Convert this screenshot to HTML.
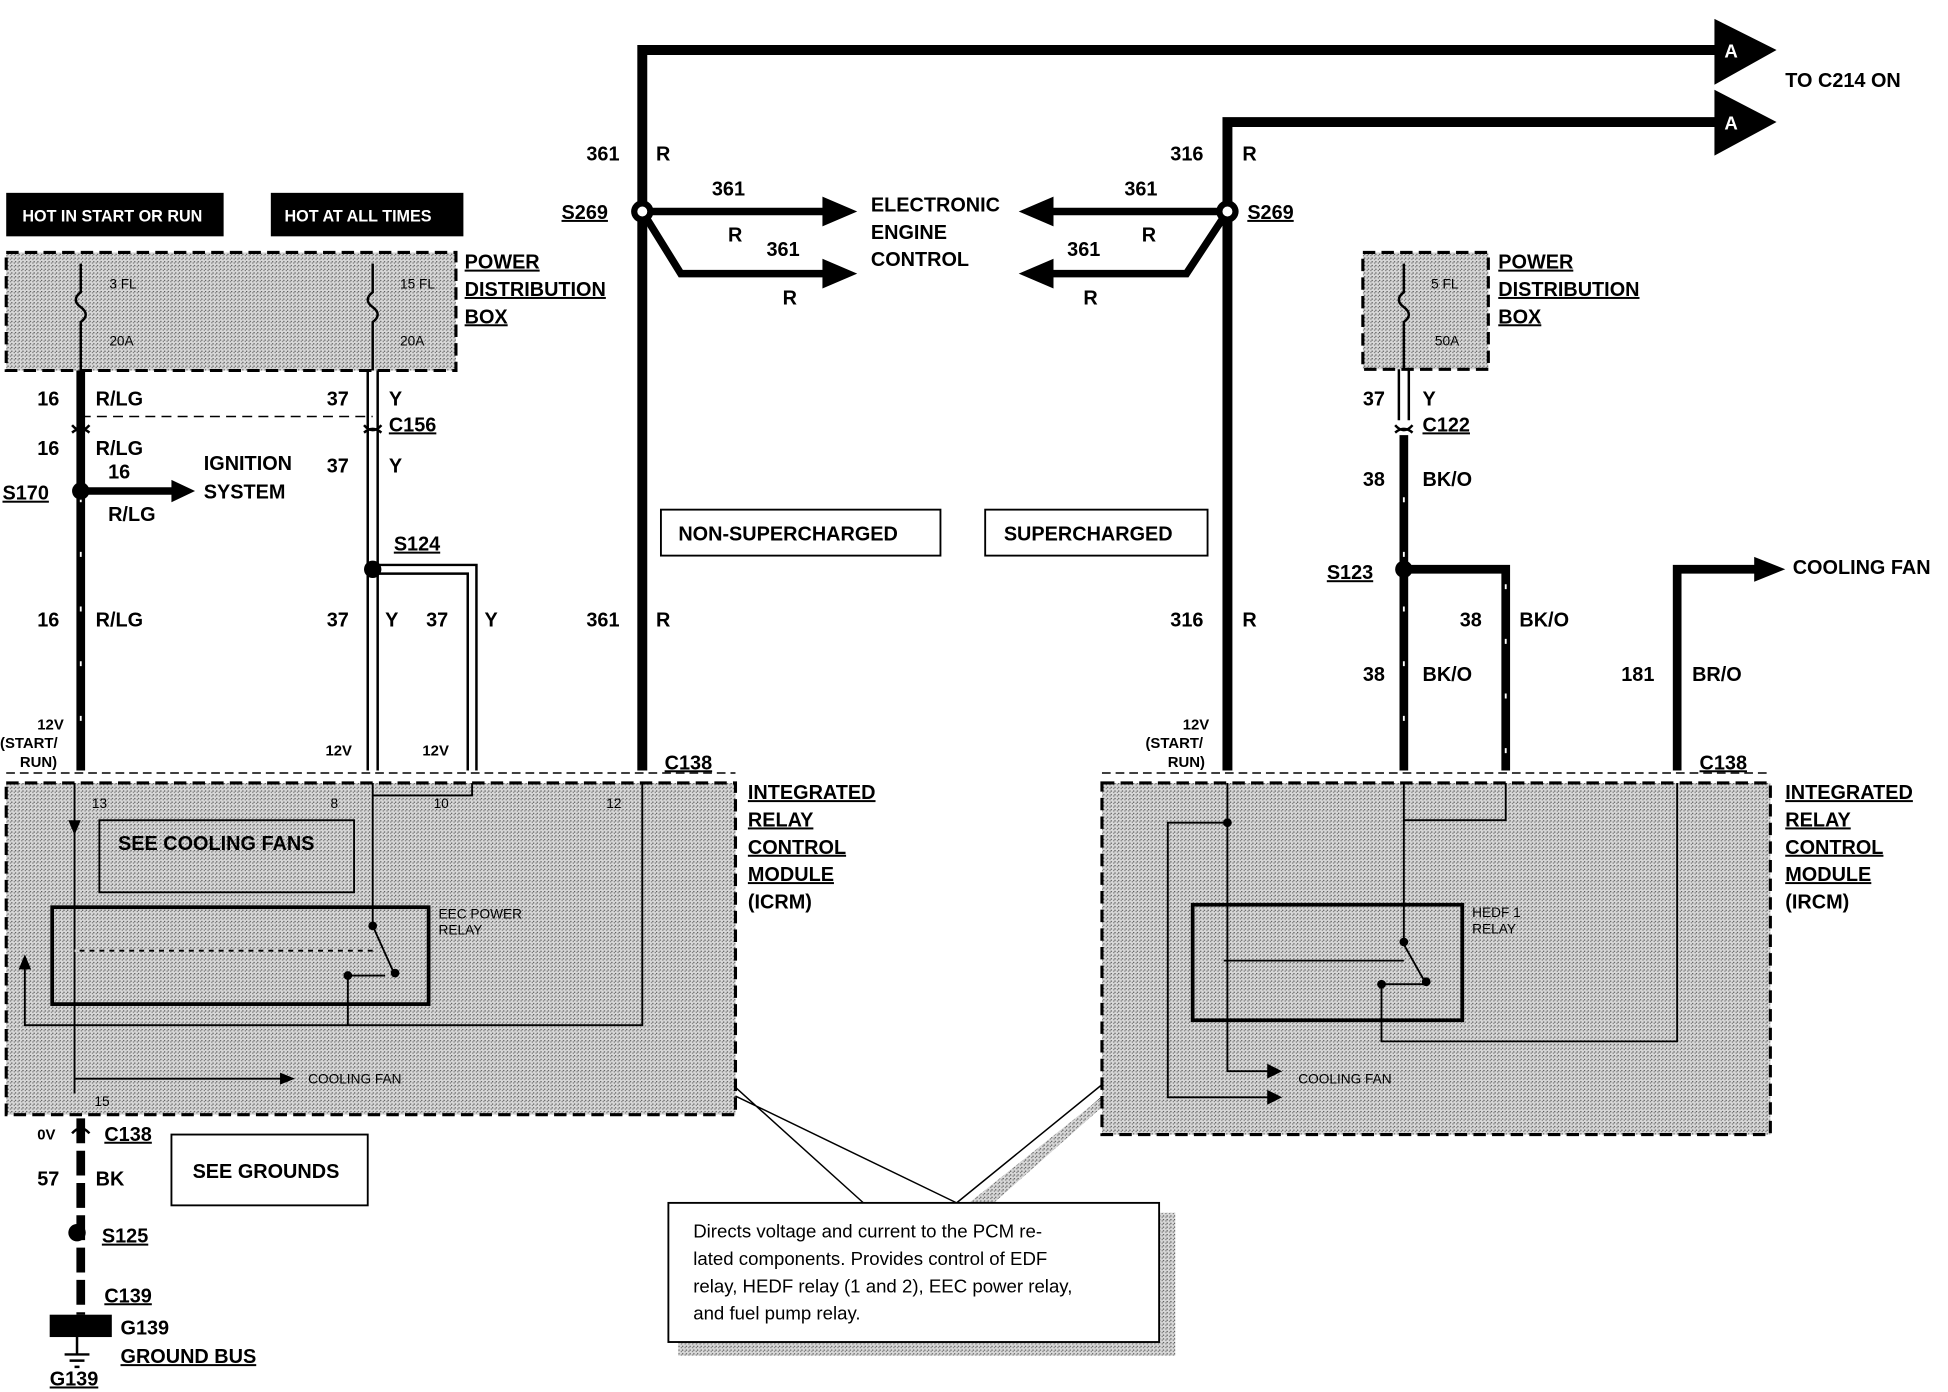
<!DOCTYPE html>
<html><head><meta charset="utf-8"><style>
html,body{margin:0;padding:0;background:#fff;width:1948px;height:1392px;overflow:hidden}
svg{display:block}
text{font-family:"Liberation Sans",Arial,sans-serif;font-weight:bold;font-size:16px;fill:#000}
.s{font-size:11px;font-weight:normal}
.w{fill:#fff;font-size:13px}
</style></head><body>
<svg width="1948" height="1392" viewBox="0 0 1568 1120" xmlns="http://www.w3.org/2000/svg">
<defs>
<pattern id="st" width="3" height="3" patternUnits="userSpaceOnUse">
<rect width="3" height="3" fill="#d8d8d8"/><rect width="1" height="1" fill="#555"/><rect x="2" y="1" width="1" height="1" fill="#777"/>
</pattern>
<marker id="ar" viewBox="0 0 10 10" refX="8" refY="5" markerWidth="4" markerHeight="4" orient="auto"><path d="M0,0L10,5L0,10z" fill="#000"/></marker>
<marker id="as" viewBox="0 0 10 10" refX="8" refY="5" markerWidth="8" markerHeight="8" orient="auto"><path d="M0,1L10,5L0,9z" fill="#000"/></marker>
</defs>

<!-- top A lines -->
<path d="M517,620V40H1385" fill="none" stroke="#000" stroke-width="8"/>
<path d="M1380,15L1430,40L1380,68z" fill="#000"/><text x="1388" y="46" class="w" style="font-size:15px">A</text>
<path d="M988,620V98H1385" fill="none" stroke="#000" stroke-width="8"/>
<path d="M1380,72L1430,98L1380,125z" fill="#000"/><text x="1388" y="104" class="w" style="font-size:15px">A</text>
<text x="1437" y="70">TO C214 ON</text>
<text x="472" y="129">361</text><text x="528" y="129">R</text>
<text x="942" y="129">316</text><text x="1000" y="129">R</text>

<!-- S269 left -->
<text x="452" y="176" text-decoration="underline">S269</text>
<path d="M517,170H665" stroke="#000" stroke-width="6"/><path d="M662,158L690,170L662,182z"/>
<path d="M517,170L548,220H665" fill="none" stroke="#000" stroke-width="6"/><path d="M662,208L690,220L662,232z"/>
<circle cx="517" cy="170" r="9" fill="#000"/><circle cx="517" cy="170" r="4" fill="#fff"/>
<text x="573" y="157">361</text><text x="586" y="194">R</text>
<text x="617" y="206">361</text><text x="630" y="245">R</text>
<text x="701" y="170">ELECTRONIC</text><text x="701" y="192">ENGINE</text><text x="701" y="214">CONTROL</text>
<!-- S269 right -->
<path d="M988,170H845" stroke="#000" stroke-width="6"/><path d="M848,158L820,170L848,182z"/>
<path d="M988,170L955,220H845" fill="none" stroke="#000" stroke-width="6"/><path d="M848,208L820,220L848,232z"/>
<circle cx="988" cy="170" r="9" fill="#000"/><circle cx="988" cy="170" r="4" fill="#fff"/>
<text x="1004" y="176" text-decoration="underline">S269</text>
<text x="905" y="157">361</text><text x="919" y="194">R</text>
<text x="859" y="206">361</text><text x="872" y="245">R</text>

<rect x="532" y="410" width="225" height="37" fill="none" stroke="#000" stroke-width="1.5"/><text x="546" y="435">NON-SUPERCHARGED</text>
<rect x="793" y="410" width="179" height="37" fill="none" stroke="#000" stroke-width="1.5"/><text x="808" y="435">SUPERCHARGED</text>
<text x="472" y="504">361</text><text x="528" y="504">R</text>
<text x="942" y="504">316</text><text x="1000" y="504">R</text>

<!-- hot boxes -->
<rect x="5" y="155" width="175" height="35" fill="#000"/><text x="18" y="178" class="w">HOT IN START OR RUN</text>
<rect x="218" y="155" width="155" height="35" fill="#000"/><text x="229" y="178" class="w">HOT AT ALL TIMES</text>

<!-- left PDB -->
<rect x="5" y="203" width="362" height="95" fill="url(#st)" stroke="#000" stroke-width="2.5" stroke-dasharray="10,5"/>
<path d="M65,212V235q-8,6 0,12q8,6 0,12V298M300,212V235q-8,6 0,12q8,6 0,12V298" fill="none" stroke="#000" stroke-width="2"/>
<text x="88" y="232" class="s">3 FL</text><text x="88" y="278" class="s">20A</text>
<text x="322" y="232" class="s">15 FL</text><text x="322" y="278" class="s">20A</text>
<text x="374" y="216" text-decoration="underline">POWER</text><text x="374" y="238" text-decoration="underline">DISTRIBUTION</text><text x="374" y="260" text-decoration="underline">BOX</text>

<!-- left wires -->
<path d="M65,298V620" stroke="#000" stroke-width="7"/>
<path d="M65,400V615" stroke="#fff" stroke-width="1.5" stroke-dasharray="4,40"/>
<path d="M296,298V620M304,298V620" stroke="#000" stroke-width="2"/>
<path d="M300,458H380V620" fill="none" stroke="#000" stroke-width="9"/>
<path d="M300,458H380V620" fill="none" stroke="#fff" stroke-width="5"/>
<path d="M65,335H300" stroke="#000" stroke-width="1.2" stroke-dasharray="8,5"/>
<path d="M58,342q7,8 14,0M58,348q7,-6 14,0M293,342q7,8 14,0M293,348q7,-6 14,0" fill="none" stroke="#000" stroke-width="2"/>
<text x="30" y="326">16</text><text x="77" y="326">R/LG</text>
<text x="263" y="326">37</text><text x="313" y="326">Y</text>
<text x="313" y="347" text-decoration="underline">C156</text>
<text x="30" y="366">16</text><text x="77" y="366">R/LG</text>
<text x="263" y="380">37</text><text x="313" y="380">Y</text>
<circle cx="65" cy="395" r="7" fill="#000"/>
<text x="2" y="402" text-decoration="underline">S170</text>
<path d="M65,395H140" stroke="#000" stroke-width="6"/><path d="M138,386L157,395L138,404z"/>
<text x="87" y="385">16</text><text x="87" y="419">R/LG</text>
<text x="164" y="378">IGNITION</text><text x="164" y="401">SYSTEM</text>
<circle cx="300" cy="458" r="7" fill="#000"/>
<text x="317" y="443" text-decoration="underline">S124</text>
<text x="30" y="504">16</text><text x="77" y="504">R/LG</text>
<text x="263" y="504">37</text><text x="310" y="504">Y</text><text x="343" y="504">37</text><text x="390" y="504">Y</text>
<text x="30" y="587" style="font-size:12px">12V</text><text x="0" y="602" style="font-size:12px">(START/</text><text x="16" y="617" style="font-size:12px">RUN)</text>
<text x="262" y="608" style="font-size:12px">12V</text><text x="340" y="608" style="font-size:12px">12V</text>
<path d="M5,622H592" stroke="#000" stroke-width="1.2" stroke-dasharray="7,4"/>
<text x="535" y="619" text-decoration="underline">C138</text>

<!-- left ICRM -->
<rect x="5" y="630" width="587" height="267" fill="url(#st)" stroke="#000" stroke-width="2.5" stroke-dasharray="10,5"/>
<text x="74" y="650" class="s">13</text><text x="266" y="650" class="s">8</text><text x="349" y="650" class="s">10</text><text x="488" y="650" class="s">12</text>
<rect x="80" y="660" width="205" height="58" fill="none" stroke="#000" stroke-width="1.5"/><text x="95" y="684">SEE COOLING FANS</text>
<rect x="42" y="730" width="303" height="78" fill="none" stroke="#000" stroke-width="3"/>
<text x="353" y="739" class="s">EEC POWER</text><text x="353" y="752" class="s">RELAY</text>
<path d="M60,630V880M300,630V745L318,785M300,630V640H380V630M517,630V825H20V770M60,765H300M280,785H310M280,785V825" fill="none" stroke="#000" stroke-width="1.5"/>
<path d="M60,765H300" stroke="#d8d8d8" stroke-width="2" stroke-dasharray="4,4"/>
<path d="M60,868H235" stroke="#000" stroke-width="1.5" marker-end="url(#as)"/>
<circle cx="300" cy="745" r="3.5"/><circle cx="318" cy="783" r="3.5"/><circle cx="280" cy="785" r="3.5"/>
<path d="M55,660L65,660L60,672z"/><path d="M15,780L25,780L20,768z"/>
<text x="248" y="872" class="s">COOLING FAN</text>
<text x="76" y="890" class="s">15</text>
<text x="602" y="643" text-decoration="underline">INTEGRATED</text><text x="602" y="665" text-decoration="underline">RELAY</text><text x="602" y="687" text-decoration="underline">CONTROL</text><text x="602" y="709" text-decoration="underline">MODULE</text><text x="602" y="731">(ICRM)</text>

<!-- ground -->
<path d="M65,900V1058" stroke="#000" stroke-width="7" stroke-dasharray="20,6"/>
<path d="M58,912q7,-8 14,0" fill="none" stroke="#000" stroke-width="2"/>
<text x="30" y="917" style="font-size:12px">0V</text><text x="84" y="918" text-decoration="underline">C138</text>
<text x="30" y="954">57</text><text x="77" y="954">BK</text>
<rect x="138" y="913" width="158" height="57" fill="none" stroke="#000" stroke-width="1.5"/><text x="155" y="948">SEE GROUNDS</text>
<circle cx="62" cy="992" r="7" fill="#000"/><text x="82" y="1000" text-decoration="underline">S125</text>
<text x="84" y="1048" text-decoration="underline">C139</text>
<rect x="40" y="1058" width="50" height="18" fill="#000"/><path d="M62,1076V1090M52,1090H72M56,1095H68M60,1100H64" stroke="#000" stroke-width="2"/>
<text x="97" y="1074">G139</text><text x="97" y="1097" text-decoration="underline">GROUND BUS</text>
<text x="40" y="1115" text-decoration="underline">G139</text>

<!-- callout -->
<path d="M592,875L695,968M592,882L770,968M888,872L770,968M888,882L790,968" stroke="#000" stroke-width="1.2" fill="none"/>
<path d="M888,882L780,968H800L888,890z" fill="url(#st)"/>
<rect x="546" y="976" width="400" height="115" fill="url(#st)"/>
<rect x="538" y="968" width="395" height="112" fill="#fff" stroke="#000" stroke-width="1.5"/>
<text x="558" y="996" style="font-weight:normal;font-size:15px">Directs voltage and current to the PCM re-</text>
<text x="558" y="1018" style="font-weight:normal;font-size:15px">lated components. Provides control of EDF</text>
<text x="558" y="1040" style="font-weight:normal;font-size:15px">relay, HEDF relay (1 and 2), EEC power relay,</text>
<text x="558" y="1062" style="font-weight:normal;font-size:15px">and fuel pump relay.</text>

<!-- right PDB -->
<rect x="1097" y="203" width="101" height="94" fill="url(#st)" stroke="#000" stroke-width="2.5" stroke-dasharray="10,5"/>
<path d="M1130,212V235q-8,6 0,12q8,6 0,12V297" fill="none" stroke="#000" stroke-width="2"/>
<text x="1152" y="232" class="s">5 FL</text><text x="1155" y="278" class="s">50A</text>
<text x="1206" y="216" text-decoration="underline">POWER</text><text x="1206" y="238" text-decoration="underline">DISTRIBUTION</text><text x="1206" y="260" text-decoration="underline">BOX</text>
<path d="M1126,297V338M1134,297V338" stroke="#000" stroke-width="2"/>
<path d="M1123,342q7,8 14,0M1123,348q7,-6 14,0" fill="none" stroke="#000" stroke-width="2"/>
<path d="M1130,350V620" stroke="#000" stroke-width="7"/>
<path d="M1130,458H1212V620" fill="none" stroke="#000" stroke-width="7"/>
<path d="M1130,400V615M1212,470V615" stroke="#fff" stroke-width="1.5" stroke-dasharray="4,40"/>
<circle cx="1130" cy="458" r="7" fill="#000"/>
<text x="1097" y="326">37</text><text x="1145" y="326">Y</text>
<text x="1145" y="347" text-decoration="underline">C122</text>
<text x="1097" y="391">38</text><text x="1145" y="391">BK/O</text>
<text x="1068" y="466" text-decoration="underline">S123</text>
<text x="1175" y="504">38</text><text x="1223" y="504">BK/O</text>
<text x="1097" y="548">38</text><text x="1145" y="548">BK/O</text>
<path d="M1350,620V458H1415" fill="none" stroke="#000" stroke-width="7"/><path d="M1412,448L1437,458L1412,468z"/>
<text x="1443" y="462">COOLING FAN</text>
<text x="1305" y="548">181</text><text x="1362" y="548">BR/O</text>
<text x="952" y="587" style="font-size:12px">12V</text><text x="922" y="602" style="font-size:12px">(START/</text><text x="940" y="617" style="font-size:12px">RUN)</text>
<path d="M887,622H1425" stroke="#000" stroke-width="1.2" stroke-dasharray="7,4"/>
<text x="1368" y="619" text-decoration="underline">C138</text>

<!-- right IRCM -->
<rect x="887" y="630" width="538" height="283" fill="url(#st)" stroke="#000" stroke-width="2.5" stroke-dasharray="10,5"/>
<rect x="960" y="728" width="217" height="93" fill="none" stroke="#000" stroke-width="3"/>
<text x="1185" y="738" class="s">HEDF 1</text><text x="1185" y="751" class="s">RELAY</text>
<path d="M988,630V862H1030M988,662H940V883H1030M1130,630V760L1148,792M1130,630V660H1212V630M1350,630V838H1112V792M985,773H1130M1112,792H1148" fill="none" stroke="#000" stroke-width="1.5"/>
<circle cx="988" cy="662" r="3.5"/><circle cx="1130" cy="758" r="3.5"/><circle cx="1148" cy="790" r="3.5"/><circle cx="1112" cy="792" r="3.5"/>
<path d="M1020,856L1032,862L1020,868zM1020,877L1032,883L1020,889z"/>
<text x="1045" y="872" class="s">COOLING FAN</text>
<text x="1437" y="643" text-decoration="underline">INTEGRATED</text><text x="1437" y="665" text-decoration="underline">RELAY</text><text x="1437" y="687" text-decoration="underline">CONTROL</text><text x="1437" y="709" text-decoration="underline">MODULE</text><text x="1437" y="731">(IRCM)</text>
</svg>
</body></html>
